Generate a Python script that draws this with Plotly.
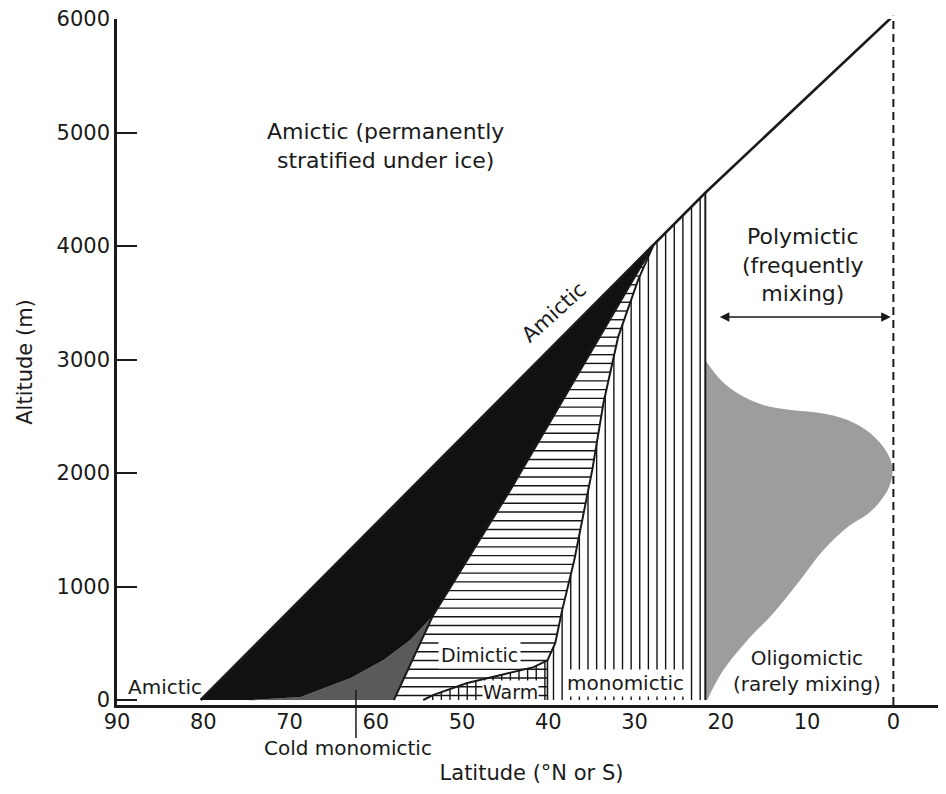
import numpy as np
import plotly.graph_objects as go

# ---------------- data ----------------
x_ticks = [90, 80, 70, 60, 50, 40, 30, 20, 10, 0]
y_ticks = [0, 1000, 2000, 3000, 4000, 5000, 6000]

# upper limit line (latitude, altitude)
limit_lat = [80.3, 21.8, 0.0]
limit_alt = [0, 4470, 6030]

# amictic / dimictic boundary, bottom upwards (ends at junction with limit line)
dim_left_lat = [57.9, 53.4, 44.4]
dim_left_alt = [0, 740, 1850]
junction_lat = 27.8

# dimictic / monomictic boundary, from junction downwards
dim_right_lat = [29.6, 31.9, 33.6, 34.9, 37.0, 38.4, 39.2, 40.1]
dim_right_alt = [3700, 3200, 2620, 2030, 1230, 790, 500, 350]

# warm monomictic upper curve
warm_lat = [40.1, 41.7, 45.5, 49.4, 53.3, 54.5]
warm_alt = [350, 290, 220, 150, 45, 0]

# cold monomictic upper curve
cold_lat = [74.5, 68.7, 62.9, 59.1, 56.0, 53.4]
cold_alt = [0, 26, 194, 352, 529, 740]

# right edge of monomictic band
mono_edge_lat = 21.8

# oligomictic outline
oligo_lat = [21.8, 20.0, 18.1, 15.1, 11.9, 8.5, 5.3, 2.7, 0.7, 0.1, 0.6, 2.7,
             5.3, 8.1, 10.8, 13.9, 16.9, 19.7, 21.2, 21.6]
oligo_alt = [2995, 2819, 2705, 2599, 2555, 2529, 2467, 2352, 2176, 2030, 1860, 1656,
             1524, 1322, 1057, 767, 529, 264, 62, 0]

# polymictic range arrow (lat from, lat to, altitude)
poly_arrow_lat = [20.3, 0.3]
poly_arrow_alt = 3375

# cold monomictic leader line
leader_lat = 62.3
leader_alt = 88

# ---------------- derived geometry ----------------
y_range = [-44, 6001]
x_range = [90, -6.1]
H_PITCH = 77      # altitude step of horizontal hatching
V_PITCH = 1.0     # latitude step of vertical hatching
V_START = 22.4


def limit(lat):
    return float(np.interp(lat, limit_lat[::-1], limit_alt[::-1]))


junction_alt = limit(junction_lat)
edge_top = limit(mono_edge_lat)

dl_lat_full = dim_left_lat + [junction_lat]
dl_alt_full = dim_left_alt + [junction_alt]
dr_lat_full = [junction_lat] + dim_right_lat
dr_alt_full = [junction_alt] + dim_right_alt

FONT = "DejaVu Sans"
INK = "#1a1a1a"
HATCH = "#141414"

fig = go.Figure()

# black amictic wedge
black_lat = [limit_lat[0], junction_lat] + dim_left_lat[::-1][:-1] + cold_lat[::-1]
black_alt = [0, junction_alt] + dim_left_alt[::-1][:-1] + cold_alt[::-1]
fig.add_trace(go.Scatter(x=black_lat, y=black_alt, fill="toself", mode="lines",
                         fillcolor="#111111", line=dict(width=0.5, color="#111111"),
                         hoverinfo="skip"))

# cold monomictic (dark gray)
cg_lat = cold_lat + [dim_left_lat[0]]
cg_alt = cold_alt + [dim_left_alt[0]]
fig.add_trace(go.Scatter(x=cg_lat, y=cg_alt, fill="toself", mode="lines",
                         fillcolor="#5a5a5a", line=dict(width=0, color="#5a5a5a"),
                         hoverinfo="skip"))

# oligomictic (light gray)
fig.add_trace(go.Scatter(x=oligo_lat + [mono_edge_lat], y=oligo_alt + [0], fill="toself",
                         mode="lines", fillcolor="#9d9d9d", line=dict(width=0),
                         line_shape="spline", hoverinfo="skip"))

# horizontal hatching (dimictic, continues through warm area)
hx, hy = [], []
for a in np.arange(40, junction_alt, H_PITCH):
    left = float(np.interp(a, dl_alt_full, dl_lat_full))
    if a >= dim_right_alt[-1]:
        right = float(np.interp(a, dr_alt_full[::-1], dr_lat_full[::-1]))
    else:
        right = dim_right_lat[-1]
    if left - right > 0.15:
        hx += [left, right, None]
        hy += [a, a, None]
fig.add_trace(go.Scatter(x=hx, y=hy, mode="lines", line=dict(color=HATCH, width=1.4),
                         hoverinfo="skip"))

# vertical hatching (monomictic band and warm area)
vx, vy = [], []
for lat in np.arange(V_START, warm_lat[-1], V_PITCH):
    if lat <= junction_lat:
        top = limit(lat)
    elif lat < dim_right_lat[-1]:
        top = float(np.interp(lat, dr_lat_full, dr_alt_full))
    else:
        top = float(np.interp(lat, warm_lat, warm_alt))
    if top > 20:
        vx += [lat, lat, None]
        vy += [0, top, None]
fig.add_trace(go.Scatter(x=vx, y=vy, mode="lines", line=dict(color=HATCH, width=1.4),
                         hoverinfo="skip"))

# outlines
fig.add_trace(go.Scatter(x=limit_lat, y=limit_alt, mode="lines",
                         line=dict(color=INK, width=2.6), hoverinfo="skip"))
fig.add_trace(go.Scatter(x=dl_lat_full, y=dl_alt_full,
                         mode="lines", line=dict(color=INK, width=2), hoverinfo="skip"))
fig.add_trace(go.Scatter(x=dr_lat_full + warm_lat[1:], y=dr_alt_full + warm_alt[1:],
                         mode="lines", line=dict(color=INK, width=2), hoverinfo="skip"))
fig.add_trace(go.Scatter(x=[dim_right_lat[-1], dim_right_lat[-1]], y=[0, dim_right_alt[-1]],
                         mode="lines", line=dict(color=INK, width=1.6), hoverinfo="skip"))
fig.add_trace(go.Scatter(x=[mono_edge_lat, mono_edge_lat], y=[0, edge_top],
                         mode="lines", line=dict(color=INK, width=2), hoverinfo="skip"))


def paper_y(alt):
    return (alt - y_range[0]) / (y_range[1] - y_range[0])


shapes = [
    dict(type="line", xref="x", yref="paper", x0=0, x1=0, y0=0, y1=paper_y(6030),
         line=dict(color=INK, width=2, dash="8px,5px")),
    dict(type="line", xref="x", yref="paper", x0=leader_lat, x1=leader_lat,
         y0=-0.048, y1=paper_y(leader_alt), line=dict(color=INK, width=1.5)),
]

tf = dict(family=FONT, size=21, color=INK)
sf = dict(family=FONT, size=20, color=INK)
annotations = [
    dict(x=58.9, y=4881, text="Amictic (permanently<br>stratified under ice)", showarrow=False,
         font=dict(family=FONT, size=22, color=INK)),
    dict(x=39.3, y=3419, text="Amictic", textangle=-42, showarrow=False, font=tf),
    dict(x=84.4, y=115, text="Amictic", showarrow=False, font=sf),
    dict(x=63.2, y=-0.063, yref="paper", yanchor="middle", xanchor="center",
         text="Cold monomictic", showarrow=False, font=sf),
    dict(x=48.0, y=396, text="Dimictic", showarrow=False, font=dict(family=FONT, size=19, color=INK),
         bgcolor="white", borderpad=2),
    dict(x=44.4, y=70, text="Warm", showarrow=False, font=dict(family=FONT, size=19, color=INK),
         bgcolor="white", borderpad=0),
    dict(x=31.1, y=150, text="monomictic", showarrow=False, font=sf,
         bgcolor="white", borderpad=1),
    dict(x=10.0, y=255, text="Oligomictic<br>(rarely mixing)", showarrow=False, font=sf),
    dict(x=10.5, y=3833, text="Polymictic<br>(frequently<br>mixing)", showarrow=False,
         font=dict(family=FONT, size=22, color=INK)),
    dict(x=poly_arrow_lat[1], y=poly_arrow_alt, ax=poly_arrow_lat[0], ay=poly_arrow_alt,
         axref="x", ayref="y", text="", showarrow=True, arrowhead=2, startarrowhead=2,
         arrowside="end+start", arrowwidth=1.6, arrowsize=1.2, startarrowsize=1.2,
         arrowcolor=INK),
]

# page body adds an 8px margin, so the figure is sized to fill the 946x794 window
fig.update_layout(
    width=938, height=786,
    margin=dict(l=109, r=0, t=11, b=89),
    paper_bgcolor="white", plot_bgcolor="white",
    showlegend=False,
    shapes=shapes,
    annotations=annotations,
    font=dict(family=FONT, color=INK),
)
fig.update_xaxes(range=x_range, tickvals=x_ticks, ticktext=[str(v) for v in x_ticks],
                 showgrid=False, zeroline=False, showline=True, linecolor=INK, linewidth=2.6,
                 ticks="", tickfont=tf, ticklabelstandoff=-4, ticklabeloverflow="allow",
                 title=dict(text="Latitude (°N or S)", font=tf, standoff=33))
fig.update_yaxes(range=y_range, tickvals=y_ticks, ticktext=[str(v) for v in y_ticks],
                 showgrid=False, zeroline=False, showline=True, linecolor=INK, linewidth=2.6,
                 ticks="inside", ticklen=20, tickwidth=2, tickcolor=INK, tickfont=tf,
                 ticklabeloverflow="allow",
                 title=dict(text="Altitude (m)", font=tf, standoff=19))

fig.write_html("out.html")
